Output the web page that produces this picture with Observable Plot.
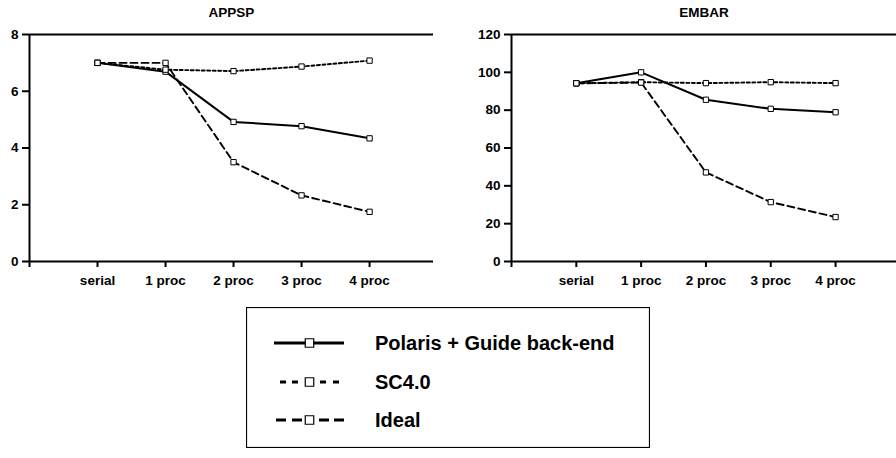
<!DOCTYPE html>
<html><head><meta charset="utf-8">
<script src="https://cdn.jsdelivr.net/npm/d3@7"></script>
<script src="https://cdn.jsdelivr.net/npm/@observablehq/plot@0.6"></script>
<style>
body{margin:0;background:#fff;font-family:"Liberation Sans",Arial,sans-serif;}
#wrap{position:relative;width:896px;height:458px;overflow:hidden;background:#fff}
.panel{position:absolute;top:0}
#legend{position:absolute;left:246px;top:307px}
</style></head><body><div id="wrap"></div>
<script>
const categories = ["serial", "1 proc", "2 proc", "3 proc", "4 proc"];
const seriesNames = ["Polaris + Guide back-end", "SC4.0", "Ideal"];
const appspPolaris = [7.0, 6.69, 4.92, 4.77, 4.34];
const appspSC = [7.0, 6.76, 6.71, 6.87, 7.08];
const appspIdeal = [7.0, 7.0, 3.5, 2.33, 1.75];
const embarPolaris = [94.2, 100, 85.5, 80.7, 78.9];
const embarSC = [94.2, 94.8, 94.3, 94.8, 94.3];
const embarIdeal = [94.2, 94.6, 47.1, 31.4, 23.5];
const appspTicks = [0, 2, 4, 6, 8];
const embarTicks = [0, 20, 40, 60, 80, 100, 120];

const seriesStyle = [
  {dash: null, width: 2},
  {dash: "3,2.5", width: 1.9},
  {dash: "7,4", width: 1.9}
];

const wrap = document.getElementById("wrap");

function panel({title, values, yMax, yTicks, width, marginLeft, marginRight, left}) {
  const data = [];
  values.forEach((vals, s) => vals.forEach((v, i) => data.push({series: s, i, v})));
  const lines = seriesStyle.map((st, s) =>
    Plot.line(data.filter(d => d.series === s), {
      x: "i", y: "v", stroke: "black", strokeWidth: st.width,
      strokeDasharray: st.dash || undefined
    })
  );
  const plot = Plot.plot({
    width, height: 300, marginLeft, marginRight, marginTop: 34, marginBottom: 39,
    x: {domain: [-1, 4.94], axis: null},
    y: {domain: [0, yMax], axis: null},
    style: "font-family:'Liberation Sans',Arial,sans-serif;font-weight:bold;font-size:13.5px;color:black;background:white;overflow:visible",
    marks: [
      Plot.ruleY([0, yMax], {stroke: "black", strokeWidth: 2}),
      Plot.ruleX([-1], {stroke: "black", strokeWidth: 2}),
      Plot.axisY(yTicks, {tickSize: 7, tickPadding: 4, strokeWidth: 2, fill: "black", label: null, fontWeight: "bold"}),
      Plot.axisX([-1, 0, 1, 2, 3, 4], {
        tickSize: 6, tickPadding: 8, strokeWidth: 2, fill: "black", label: null, fontWeight: "bold",
        tickFormat: d => d < 0 ? "" : categories[d]
      }),
      ...lines,
      Plot.dot(data, {x: "i", y: "v", symbol: "square", r: 3, fill: "white", stroke: "black", strokeWidth: 1}),
      Plot.text([title], {frameAnchor: "top", dy: -22, lineAnchor: "middle", fill: "black", fontSize: 13.5, fontWeight: "bold"})
    ]
  });
  plot.classList.add("panel");
  plot.style.left = left + "px";
  wrap.appendChild(plot);
}

panel({title: "APPSP", values: [appspPolaris, appspSC, appspIdeal], yMax: 8, yTicks: appspTicks,
  width: 450, marginLeft: 29, marginRight: 17, left: 0});
panel({title: "EMBAR", values: [embarPolaris, embarSC, embarIdeal], yMax: 120, yTicks: embarTicks,
  width: 446, marginLeft: 61, marginRight: 0, left: 450});

// legend
const lw = 404, lh = 141;
const svg = d3.select(wrap).append("svg").attr("id", "legend").attr("width", lw).attr("height", lh);
svg.append("rect").attr("x", 0.5).attr("y", 0.5).attr("width", lw - 1).attr("height", lh - 1)
  .attr("fill", "white").attr("stroke", "black").attr("stroke-width", 1.2);
const rowY = [36, 75, 113];
const legendSegs = [
  [[28, 98, null]],
  [[34, 52, "6,6"], [74, 93, "6,7"]],
  [[30, 56, "10,6"], [73, 98, "10,5"]]
];
seriesNames.forEach((name, s) => {
  const g = svg.append("g").attr("transform", `translate(0,${rowY[s]})`);
  legendSegs[s].forEach(([a, b, dash]) => {
    g.append("line").attr("x1", a).attr("x2", b).attr("y1", 0).attr("y2", 0).attr("stroke", "black")
      .attr("stroke-width", 3).attr("stroke-dasharray", dash);
  });
  g.append("path").attr("d", d3.symbol(d3.symbolSquare, 72)()).attr("transform", "translate(63.5,0)")
    .attr("fill", "white").attr("stroke", "black").attr("stroke-width", 1.2);
  g.append("text").attr("x", 129).attr("y", 7).attr("font-size", 20).attr("font-weight", "bold")
    .attr("font-family", "'Liberation Sans',Arial,sans-serif").text(name);
});
</script></body></html>
